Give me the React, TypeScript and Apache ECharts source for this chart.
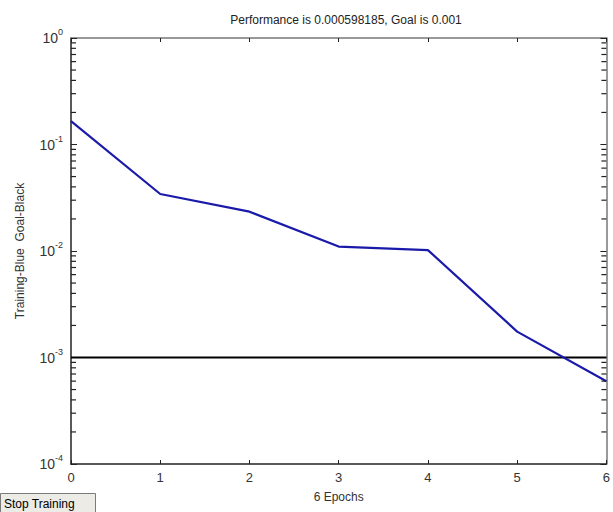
import React, { useEffect, useRef } from "react";
import * as echarts from "echarts";

const epochs = [0, 1, 2, 3, 4, 5, 6];
const performance = [0.166, 0.0343, 0.0234, 0.011, 0.0102, 0.00175, 0.000598185];
const goal = 0.001;
const xTicks = [0, 1, 2, 3, 4, 5, 6];
const yDecades = [-4, -3, -2, -1, 0];
const minorFactors = [2, 3, 4, 5, 6, 7, 8, 9];
const titleText = "Performance is 0.000598185, Goal is 0.001";
const xLabel = "6 Epochs";
const yLabel = "Training-Blue  Goal-Black";
const buttonText = "Stop Training";

const FONT = "Liberation Sans, Arial, sans-serif";

export default function App() {
  const ref = useRef<HTMLDivElement>(null);
  useEffect(() => {
    document.body.style.margin = "0";
    if (!ref.current) return;
    const chart = echarts.init(ref.current, null, { renderer: "svg" });
    const xMin = xTicks[0];
    const xMax = xTicks[xTicks.length - 1];
    const yMin = Math.pow(10, yDecades[0]);
    const yMax = Math.pow(10, yDecades[yDecades.length - 1]);
    const minorTicks: number[] = [];
    yDecades.slice(0, -1).forEach((d) => {
      minorFactors.forEach((f) => minorTicks.push(f * Math.pow(10, d)));
    });

    const supLabel = (v: number) => {
      const e = Math.round(Math.log10(v));
      return "{b|10}{s|" + e + "}";
    };
    const labelRich = {
      b: { fontSize: 14, fontFamily: FONT, color: "#333" },
      s: { fontSize: 9, fontFamily: FONT, color: "#333", padding: [0, 0, 12, 0] },
    };
    const axisColorDark = "#222";
    const axisColorLight = "#777";

    const tickSeries = (x: number, dir: number) => ({
      type: "custom",
      coordinateSystem: "cartesian2d",
      xAxisIndex: 0,
      yAxisIndex: 0,
      silent: true,
      clip: false,
      encode: { x: 0, y: 1 },
      data: minorTicks.map((v) => [x, v]),
      renderItem: (params: any, api: any) => {
        const p = api.coord([api.value(0), api.value(1)]);
        return {
          type: "rect",
          shape: { x: dir > 0 ? p[0] : p[0] - 5, y: p[1] - 0.6, width: 5, height: 1.2 },
          style: { fill: "#222" },
        };
      },
      z: 10,
    });

    chart.setOption({
      animation: false,
      backgroundColor: "#ffffff",
      textStyle: { fontFamily: FONT },
      title: {
        text: titleText,
        left: 341,
        top: 9,
        textAlign: "center",
        textStyle: { fontSize: 12, fontWeight: "normal", color: "#222", fontFamily: FONT },
      },
      grid: { left: 71, top: 38, width: 540, height: 426, containLabel: false },
      xAxis: [
        {
          type: "value",
          position: "bottom",
          min: xMin,
          max: xMax,
          interval: 1,
          axisLine: { show: true, onZero: false, lineStyle: { color: axisColorDark, width: 1.5 } },
          axisTick: { show: true, inside: true, length: 4, lineStyle: { color: axisColorDark } },
          axisLabel: { show: true, margin: 7, fontSize: 13, color: "#333", fontFamily: FONT },
          splitLine: { show: false },
          name: xLabel,
          nameLocation: "middle",
          nameGap: 27,
          nameTextStyle: { fontSize: 12, color: "#333", fontFamily: FONT },
        },
        {
          type: "value",
          position: "top",
          min: xMin,
          max: xMax,
          interval: 1,
          axisLine: { show: true, onZero: false, lineStyle: { color: axisColorLight, width: 1.5 } },
          axisTick: { show: true, inside: true, length: 4, lineStyle: { color: axisColorDark } },
          axisLabel: { show: false },
          splitLine: { show: false },
        },
      ],
      yAxis: [
        {
          type: "log",
          logBase: 10,
          position: "left",
          min: yMin,
          max: yMax,
          interval: 1,
          axisLine: { show: true, onZero: false, lineStyle: { color: axisColorDark, width: 1.5 } },
          axisTick: { show: true, inside: true, length: 6, lineStyle: { color: axisColorDark } },
          axisLabel: {
            show: true,
            margin: 8,
            formatter: supLabel,
            rich: labelRich,
          },
          splitLine: { show: false },
          name: yLabel,
          nameLocation: "middle",
          nameGap: 45,
          nameRotate: 90,
          nameTextStyle: { fontSize: 12, color: "#333", fontFamily: FONT },
        },
        {
          type: "log",
          logBase: 10,
          position: "right",
          min: yMin,
          max: yMax,
          interval: 1,
          axisLine: { show: true, onZero: false, lineStyle: { color: axisColorLight, width: 1.5 } },
          axisTick: { show: true, inside: true, length: 6, lineStyle: { color: axisColorDark } },
          axisLabel: { show: false },
          splitLine: { show: false },
        },
      ],
      series: [
        tickSeries(xMin, 1),
        tickSeries(xMax, -1),
        {
          type: "line",
          name: "Goal",
          xAxisIndex: 0,
          yAxisIndex: 0,
          data: [
            [xMin, goal],
            [xMax, goal],
          ],
          showSymbol: false,
          symbol: "none",
          lineStyle: { color: "#000000", width: 2 },
          itemStyle: { color: "#000000" },
          z: 3,
        },
        {
          type: "line",
          name: "Training",
          xAxisIndex: 0,
          yAxisIndex: 0,
          data: epochs.map((e, i) => [e, performance[i]]),
          showSymbol: false,
          symbol: "none",
          lineStyle: { color: "#1a1aaa", width: 2.2 },
          itemStyle: { color: "#1a1aaa" },
          z: 4,
        },
      ],
      graphic: [
        {
          type: "group",
          left: 0,
          top: 493,
          children: [
            {
              type: "rect",
              shape: { x: 0.5, y: 0.5, width: 95, height: 24 },
              style: { fill: "#ecebe6", stroke: "#7a7a7a", lineWidth: 1 },
            },
            {
              type: "text",
              x: 4,
              y: 11,
              style: {
                text: buttonText,
                fontSize: 12,
                fontFamily: FONT,
                fill: "#000",
                verticalAlign: "middle",
                align: "left",
              },
            },
          ],
        },
      ],
    });
    return () => chart.dispose();
  }, []);
  return <div ref={ref} style={{ width: 613, height: 512 }} />;
}
